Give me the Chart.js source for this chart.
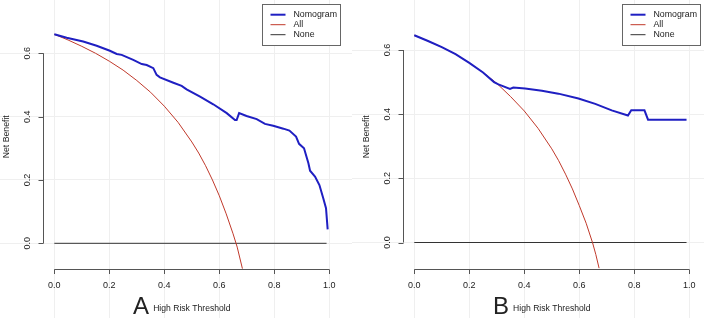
<!DOCTYPE html>
<html><head><meta charset="utf-8">
<script src="https://cdn.jsdelivr.net/npm/chart.js@4/dist/chart.umd.min.js"></script>
<style>
html,body{margin:0;padding:0;background:#fff;}
#wrap{position:relative;width:704px;height:318px;overflow:hidden;}
.panel{position:absolute;top:0;width:352px;height:318px;}
</style></head><body>
<div id="wrap">
<div class="panel" style="left:0"><canvas id="cA" width="352" height="318"></canvas></div>
<div class="panel" style="left:352px"><canvas id="cB" width="352" height="318"></canvas></div>
</div>
<script>
// ---- data ----
const xTicks = [0, 0.2, 0.4, 0.6, 0.8, 1.0];
const xTickLabels = ['0.0', '0.2', '0.4', '0.6', '0.8', '1.0'];
const yTicks = [0, 0.2, 0.4, 0.6];
const yTickLabels = ['0.0', '0.2', '0.4', '0.6'];
const seriesNames = ['Nomogram', 'All', 'None'];
const panelLetters = ['A', 'B'];
const xTitle = 'High Risk Threshold';
const yTitle = 'Net Benefit';

const aNomogramX = [0,0.045,0.105,0.154,0.202,0.227,0.245,0.287,0.318,0.336,0.36,0.372,0.384,0.433,0.463,0.481,0.53,0.578,0.627,0.657,0.663,0.672,0.699,0.736,0.766,0.796,0.833,0.855,0.879,0.89,0.908,0.924,0.93,0.948,0.964,0.978,0.988,0.994];
const aNomogramY = [0.66,0.649,0.637,0.624,0.608,0.598,0.595,0.579,0.566,0.563,0.553,0.532,0.524,0.507,0.497,0.486,0.463,0.439,0.411,0.389,0.389,0.411,0.402,0.392,0.377,0.371,0.362,0.356,0.337,0.314,0.3,0.253,0.229,0.211,0.184,0.142,0.111,0.044];
const aAllX = [0,0.05,0.1,0.15,0.2,0.25,0.3,0.35,0.4,0.45,0.5,0.525,0.55,0.575,0.6,0.625,0.65,0.665,0.684];
const aAllY = [0.66,0.642,0.622,0.6,0.575,0.547,0.514,0.477,0.433,0.382,0.32,0.285,0.245,0.2,0.15,0.093,0.03,-0.012,-0.08];
const aNoneX = [0, 0.99];
const aNoneY = [0, 0];

const bNomogramX = [0,0.05,0.1,0.15,0.2,0.25,0.29,0.306,0.348,0.36,0.403,0.464,0.524,0.597,0.658,0.718,0.777,0.789,0.837,0.85,0.99];
const bNomogramY = [0.646,0.628,0.609,0.587,0.56,0.53,0.5,0.493,0.479,0.483,0.48,0.473,0.464,0.449,0.432,0.412,0.396,0.412,0.412,0.383,0.383];
const bAllX = [0,0.05,0.1,0.15,0.2,0.25,0.3,0.35,0.4,0.45,0.5,0.525,0.55,0.575,0.6,0.625,0.648,0.66,0.672];
const bAllY = [0.646,0.628,0.609,0.587,0.56,0.53,0.496,0.455,0.41,0.356,0.292,0.255,0.213,0.167,0.115,0.06,0,-0.037,-0.08];
const bNoneX = [0, 0.99];
const bNoneY = [0, 0];

// ---- styling ----
const colors = ['#1f1fc2', '#c0392b', '#333333'];
const widths = [2, 1, 1];
const FONT = '"Liberation Sans", Arial, Helvetica, sans-serif';
const TEXT = '#222';
const AXIS = '#555';

function pts(xs, ys) { return xs.map((x, i) => ({ x: x, y: ys[i] })); }

const rAxesPlugin = {
  id: 'rAxes',
  afterDatasetsDraw(chart, args, o) {
    const ctx = chart.ctx, xs = chart.scales.x, ys = chart.scales.y;
    ctx.save();
    ctx.strokeStyle = AXIS; ctx.lineWidth = 1; ctx.fillStyle = TEXT;
    // x axis
    const ax = Math.round(ys.getPixelForValue(o.xAxisAt)) + 0.5;
    const x0 = xs.getPixelForValue(xTicks[0]), x1 = xs.getPixelForValue(xTicks[xTicks.length - 1]);
    ctx.beginPath(); ctx.moveTo(x0, ax); ctx.lineTo(x1, ax);
    xTicks.forEach(v => { const p = Math.round(xs.getPixelForValue(v)) + 0.5; ctx.moveTo(p, ax); ctx.lineTo(p, ax + 4.5); });
    ctx.stroke();
    ctx.font = '9px ' + FONT; ctx.textAlign = 'center'; ctx.textBaseline = 'middle';
    xTicks.forEach((v, i) => ctx.fillText(xTickLabels[i], xs.getPixelForValue(v), ax + 16));
    // y axis
    const ay = Math.round(xs.getPixelForValue(o.yAxisAt)) + 0.5;
    const y0 = ys.getPixelForValue(yTicks[0]), y1 = ys.getPixelForValue(yTicks[yTicks.length - 1]);
    ctx.beginPath(); ctx.moveTo(ay, y0); ctx.lineTo(ay, y1);
    yTicks.forEach(v => { const p = Math.round(ys.getPixelForValue(v)) + 0.5; ctx.moveTo(ay, p); ctx.lineTo(ay - 5, p); });
    ctx.stroke();
    yTicks.forEach((v, i) => {
      ctx.save(); ctx.translate(ay - 15.5, ys.getPixelForValue(v)); ctx.rotate(-Math.PI / 2);
      ctx.fillText(yTickLabels[i], 0, 0); ctx.restore();
    });
    // y title
    ctx.font = '8.7px ' + FONT;
    ctx.save(); ctx.translate(ay - 36.5, (ax + 4) / 2); ctx.rotate(-Math.PI / 2);
    ctx.fillText(yTitle, 0, 0); ctx.restore();
    // x title + panel letter
    const cx = xs.getPixelForValue(0.5);
    ctx.font = '8.6px ' + FONT; ctx.textBaseline = 'alphabetic';
    const tw = ctx.measureText(xTitle).width;
    ctx.fillText(xTitle, cx, ax + 41);
    ctx.font = '24px ' + FONT; ctx.textAlign = 'right';
    ctx.fillText(o.letter, cx - tw / 2 - 4, ax + 44);
    // legend (topright of plot region)
    const right = Math.round(xs.getPixelForValue(1.04)) + 0.5;
    const left = right - 78, top = 4.5, bot = 45.5;
    ctx.fillStyle = '#fff'; ctx.fillRect(left, top, right - left, bot - top);
    ctx.strokeStyle = '#666'; ctx.lineWidth = 1; ctx.strokeRect(left, top, right - left, bot - top);
    ctx.font = '8.8px ' + FONT; ctx.textAlign = 'left'; ctx.textBaseline = 'middle'; ctx.fillStyle = TEXT;
    chart.data.datasets.forEach((d, i) => {
      const yy = 14.7 + i * 10;
      ctx.strokeStyle = d.borderColor; ctx.lineWidth = d.borderWidth;
      ctx.beginPath(); ctx.moveTo(left + 8, yy); ctx.lineTo(left + 23, yy); ctx.stroke();
      ctx.fillText(d.label, left + 31, yy);
    });
    ctx.restore();
  }
};

function makeChart(id, sets, o) {
  return new Chart(document.getElementById(id), {
    type: 'line',
    data: {
      datasets: sets.map((s, i) => ({
        label: seriesNames[i], data: pts(s[0], s[1]),
        borderColor: colors[i], borderWidth: widths[i], pointRadius: 0, tension: 0, fill: false
      }))
    },
    options: {
      responsive: false, animation: false, events: [],
      layout: { padding: 0 },
      plugins: { legend: { display: false }, tooltip: { enabled: false }, rAxes: o },
      scales: {
        x: {
          type: 'linear', min: o.xmin, max: o.xmax,
          ticks: { display: false }, border: { display: false },
          grid: { color: '#efefef', drawTicks: false, lineWidth: 1 },
          afterBuildTicks: s => { s.ticks = xTicks.map(v => ({ value: v })); },
          afterFit: s => { s.height = 0; }
        },
        y: {
          type: 'linear', min: o.ymin, max: o.ymax,
          ticks: { display: false }, border: { display: false },
          grid: { color: '#efefef', drawTicks: false, lineWidth: 1 },
          afterBuildTicks: s => { s.ticks = yTicks.map(v => ({ value: v })); },
          afterFit: s => { s.width = 0; }
        }
      }
    },
    plugins: [rAxesPlugin]
  });
}

makeChart('cA', [[aNomogramX, aNomogramY], [aAllX, aAllY], [aNoneX, aNoneY]],
  { xmin: -0.1975, xmax: 1.0825, ymin: -0.2359, ymax: 0.7683, xAxisAt: -0.082, yAxisAt: -0.04, letter: panelLetters[0] });
makeChart('cB', [[bNomogramX, bNomogramY], [bAllX, bAllY], [bNoneX, bNoneY]],
  { xmin: -0.2265, xmax: 1.0535, ymin: -0.2353, ymax: 0.7559, xAxisAt: -0.0835, yAxisAt: -0.04, letter: panelLetters[1] });
</script>
</body></html>
